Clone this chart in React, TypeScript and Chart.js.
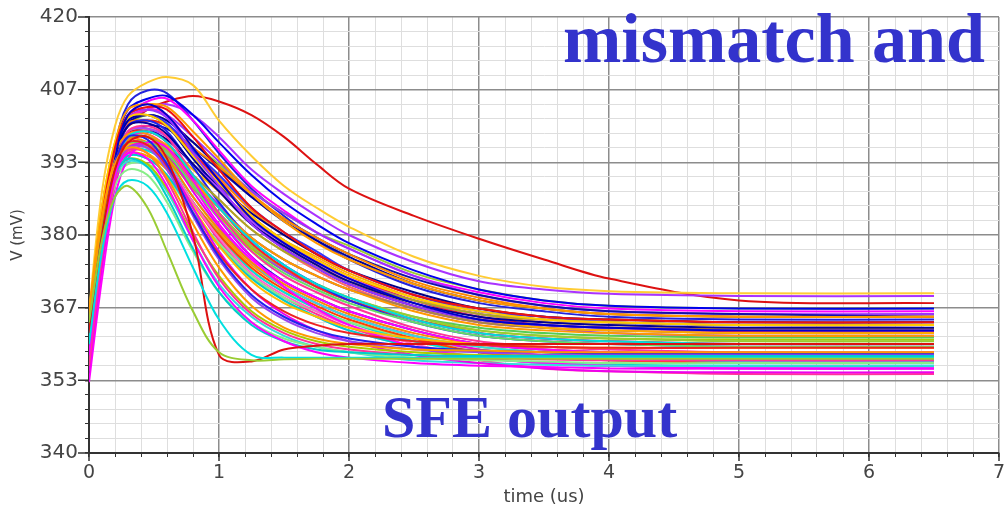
import React, { useEffect, useRef } from 'react';
import { Chart, registerables } from 'chart.js';

Chart.register(...registerables);

// time axis samples (us)
const times = [0, 0.1, 0.2, 0.3, 0.45, 0.6, 0.8, 1.0, 1.25, 1.5, 1.75, 2.0, 2.5, 3.0, 3.5, 4.0, 5.0, 6.5];

const yTickLabels = ['340', '353', '367', '380', '393', '407', '420'];
const xTickLabels = ['0', '1', '2', '3', '4', '5', '6', '7'];

// Monte Carlo output curves (mV), one row per run
const curveValues: number[][] = [
  [364, 379, 387, 389, 385, 377, 366, 358.5, 357, 357.2, 357.3, 357.3, 357.3, 357.3, 357.3, 357.3, 357.3, 357.3],
  [360, 377, 387, 390, 389, 384, 374, 364.5, 358, 357.5, 357.5, 357.5, 357.5, 357.5, 357.5, 357.5, 357.5, 357.5],
  [362, 380, 392, 397, 398, 394, 380, 358, 356.8, 359, 359.7, 360, 360, 360, 360, 360, 360, 360],
  [358, 378, 391, 395, 394, 389, 379, 370.5, 364, 360.5, 358.5, 357.5, 356.5, 356, 355.8, 355.5, 355.5, 355.5],
  [361, 380, 391, 394, 392.5, 387, 377.5, 369.5, 363.5, 360.5, 359, 358.5, 358, 357.8, 357.8, 357.8, 357.8, 357.8],
  [365, 383, 393, 396, 395, 390.5, 382, 374, 367, 363, 361, 360, 359, 358.8, 358.5, 358.5, 358.5, 358.5],
  [356, 376, 390, 395.5, 395, 390, 380.5, 372, 365.5, 362, 360, 359, 358, 357.5, 357.2, 357, 357, 357],
  [363, 381, 391, 394, 393, 388.5, 380, 372.5, 366, 362.5, 360.5, 359.5, 358.5, 358, 357.8, 357.5, 357.5, 357.5],
  [359, 379, 393, 398, 397.5, 393, 384, 376, 369, 365, 362.5, 361, 359.5, 358.8, 358.5, 358.3, 358.3, 358.3],
  [357, 377, 391, 396, 396, 392, 383.5, 375.5, 368.5, 364.5, 362, 360.5, 359, 358.5, 358, 358, 358, 358],
  [362, 379, 389, 392, 391, 386, 377, 369.5, 364, 361, 359.5, 358.5, 357.5, 357, 356.8, 356.5, 356.5, 356.5],
  [361, 381, 393, 397, 396.5, 392.5, 384, 376.5, 370, 366, 363.5, 362, 360.5, 359.8, 359.5, 359.3, 359.3, 359.3],
  [355, 375, 390, 396, 396.5, 393, 385, 377, 370, 365.5, 362.5, 360.5, 358, 356.5, 355.5, 355, 354.8, 354.8],
  [360, 379, 390.5, 393.5, 392.5, 388, 379, 371, 365, 361.5, 359.5, 358.5, 357, 356.5, 356.2, 356, 356, 356],
  [364, 383, 393.5, 396.5, 396, 392.5, 385, 378, 371.5, 367.5, 365, 363, 361, 360, 359.5, 359.3, 359.3, 359.3],
  [353, 372, 387, 394, 397, 396, 390, 383, 376, 370.5, 366.5, 363.5, 359.5, 357.5, 356.5, 356, 355.5, 355.5],
  [359, 379, 394, 402, 404, 402, 396, 390, 383, 378.5, 375, 372, 367.5, 364.5, 363.5, 363, 362.5, 362.5],
  [363, 383, 396, 402, 403.5, 403, 398, 392, 385, 380.5, 376.5, 373.5, 369, 366.5, 365, 364.5, 364, 364],
  [360, 379, 392, 398, 399, 397, 391, 385, 379, 374.5, 371, 368.5, 364.5, 362, 361, 360.5, 360, 360],
  [366, 384, 395, 398.5, 398.5, 396, 390, 385, 379.5, 375.5, 372.5, 370, 366, 363.5, 362.5, 362, 361.5, 361.5],
  [357, 377, 392, 399, 400, 398, 391, 384, 377, 372.5, 369.5, 367, 363, 360.5, 359.5, 359, 358.5, 358.5],
  [361, 381, 395, 402, 403, 401.5, 395, 389, 382, 377.5, 374, 371, 367, 364.5, 363.5, 363, 362.5, 362.5],
  [365, 385, 397, 401.5, 402, 400, 394.5, 389.5, 383.5, 379, 375.5, 372.5, 368.5, 366, 364.5, 364, 363.5, 363.5],
  [362, 380, 392, 396.5, 397, 395, 389, 383, 377, 373, 370, 367.5, 364, 361.5, 360.5, 360, 359.5, 359.5],
  [360, 380, 394, 400, 400.5, 398.5, 393, 388, 382, 378, 374.5, 371.5, 367.5, 365, 364, 363.5, 363, 363],
  [356, 376, 391, 398, 398.5, 396, 389, 382, 375.5, 371.5, 368.5, 366, 362.5, 360, 359, 358.5, 358, 358],
  [364, 383, 394, 397.5, 397, 394, 387, 381, 375, 371, 368, 365.5, 362, 360, 359, 358.5, 358, 358],
  [363, 382, 393, 397.5, 398, 396, 391, 386.5, 381, 377, 374, 371.5, 368, 365.5, 364.5, 364, 363.5, 363.5],
  [358, 378, 393, 400, 401, 399, 392.5, 386, 379, 374.5, 371, 368, 364, 361.5, 360.5, 360, 359.5, 359.5],
  [362, 382, 394, 398.5, 399, 397, 391, 385, 378.5, 374, 370.5, 368, 364.5, 362, 361, 360.5, 360, 360],
  [361, 380, 392, 396, 396, 393.5, 387, 381, 375, 370.5, 367.5, 365, 361.5, 359.5, 358.5, 358, 357.5, 357.5],
  [359, 379, 393, 399, 399.5, 398, 393, 388.5, 382.5, 378.5, 375, 372, 368, 365.5, 364.5, 364, 363.5, 363.5],
  [357, 376, 390, 395.5, 396, 393, 386, 379.5, 373, 369, 366, 363.5, 360, 357.5, 356.5, 356, 355.5, 355.5],
  [364, 383, 394, 398, 398, 395.5, 389.5, 384, 378, 374, 371, 368.5, 365, 362.5, 361.5, 361, 360.5, 360.5],
  [362, 381, 393, 397.5, 398, 396.5, 392, 388, 383, 379, 376, 373, 368.5, 365.5, 364, 363.5, 362.8, 362.8],
  [360, 379, 391, 394.5, 394, 391, 384, 378, 372, 368, 365, 362.5, 359.5, 357.5, 356.5, 356.2, 356, 356],
  [361, 381, 395, 401, 402, 400, 394, 388.5, 382, 377.5, 374, 371, 367, 364.5, 363.5, 363, 362.8, 362.8],
  [355, 374, 389, 395.5, 397, 395, 388, 381.5, 375, 370.5, 367.5, 365, 361.5, 359, 358, 357.5, 357, 357],
  [363, 382, 393, 396.5, 396, 393, 386, 380, 374, 370, 367, 364.5, 361, 358.5, 357.5, 357, 356.5, 356.5],
  [362, 380, 390, 393, 393, 390.5, 384, 378.5, 372.5, 368.5, 366, 364, 361, 359, 358, 357.5, 357, 357],
  [359, 379, 394, 401, 402, 400.5, 395.5, 391, 385, 380.5, 377, 373.5, 369, 366, 365, 364, 363.5, 363.5],
  [365, 384, 395, 399, 399.5, 398, 393, 388, 382, 378, 374.5, 371.5, 367, 364.5, 363, 362.5, 362, 362],
  [358, 377, 391, 396.5, 397, 395, 389.5, 384, 378, 373.5, 370.5, 368, 364.5, 362, 361, 360.5, 360, 360],
  [364, 382, 393, 396.5, 396.5, 394.5, 389.5, 385, 379.5, 375.5, 372.5, 370, 366.5, 364, 363, 362.5, 362, 362],
  [359, 378, 391, 395.5, 395.5, 393, 386, 380, 373.5, 369.5, 366.5, 364, 360.5, 358.5, 357.5, 357, 356.8, 356.8],
  [356, 375, 389, 395, 395.5, 393, 386, 379, 372.5, 368.5, 365.5, 363, 359.5, 357, 355.5, 355, 354.5, 354.5],
  [361, 381, 394, 400, 401, 400, 395, 390, 383.5, 379, 375.5, 372.5, 368, 365, 363.5, 363, 362.3, 362.3],
  [363, 381, 392, 396, 396, 394, 388.5, 383.5, 377.5, 373.5, 370.5, 368, 364.5, 362.5, 361.5, 361, 360.8, 360.8],
  [357, 377, 392, 398.5, 399.5, 397, 390, 383, 376, 371.5, 368.5, 366, 362.5, 360, 359, 358.5, 358, 358],
  [363, 382, 392, 395, 394.5, 392, 386, 380.5, 374.5, 370.5, 367.5, 365, 361.5, 359.5, 358.5, 358, 357.5, 357.5],
  [358, 378, 392, 397.5, 398, 396, 390.5, 385.5, 379.5, 375.5, 372.5, 370, 366.5, 364, 363, 362, 361.5, 361.5],
  [357, 377, 393, 401, 403, 402, 396, 390, 383, 378.5, 375, 372, 368, 365.5, 364.5, 364, 363.5, 363.5],
  [360, 379, 391, 394.5, 394, 391, 384.5, 378.5, 372.5, 368, 365, 362.5, 359.5, 357.5, 356.5, 356, 355.8, 355.8],
  [364, 383, 393, 396, 395, 392, 385.5, 379.5, 373.5, 369.5, 366.5, 364, 360.5, 358.5, 357.5, 357, 356.8, 356.8],
  [359, 379, 393, 398.5, 399, 397.5, 393, 389, 384, 380, 376.5, 373.5, 369.5, 366.5, 365, 364.5, 364, 364],
  [361, 380, 392, 396.5, 397, 395.5, 391, 386.5, 381, 377, 373.5, 370.5, 366.5, 364, 363, 362.5, 362, 362],
  [362, 381, 393, 396.5, 396.5, 394.5, 389, 384, 378, 374, 371, 368.5, 365, 363, 362, 361.5, 361.2, 361.2],
  [365, 385, 396, 400, 401, 400, 395.5, 390.5, 384.5, 380, 376.5, 373.5, 369, 366.5, 365, 364.5, 364, 364],
  [364, 385, 397, 403, 404, 403.5, 399, 394, 387.5, 382.5, 378.5, 375.5, 371, 368, 366.5, 365.5, 365, 365],
  [364, 384, 396, 400.5, 401, 400, 396, 392.5, 387.5, 383, 379.5, 376.5, 371.5, 368.5, 366.5, 365.5, 365, 365],
  [362, 382, 395, 400.5, 402, 401, 397, 392.5, 387, 382.5, 379, 376, 371, 368, 366.5, 365.5, 365, 365],
  [361, 380, 393, 398.5, 400, 399.5, 396, 392, 387, 383, 379.5, 376.5, 372, 369, 367, 366, 365.5, 365],
  [360, 381, 395, 401.5, 403, 402, 398, 393.5, 388, 384, 380.5, 377.5, 372.5, 369, 367, 366, 365.5, 365.5],
  [358, 379, 394, 402, 404.5, 405, 401, 395.5, 389, 384.5, 380.5, 377.5, 372.5, 369.5, 367.5, 366.5, 366, 366],
  [360, 381, 396, 403, 405, 405.5, 402, 397, 391, 386, 382, 378.5, 373.5, 370, 368, 367, 366.5, 366.5],
  [363, 382, 395, 400, 402, 401, 397, 393, 388, 384, 380.5, 378, 373, 370, 368, 367, 366.5, 366.5],
  [358, 380, 396, 404, 406.5, 406, 401, 395, 388.5, 383.5, 379, 375.5, 370.5, 367.5, 366, 365, 364.5, 364.5],
  [362, 381, 395, 401, 403, 404, 402, 398, 392, 387.5, 383.5, 380, 375, 371.5, 370, 369.2, 368.8, 368.8],
  [366, 388, 400, 405.5, 408, 409, 407.5, 401, 394.5, 389, 385, 381.5, 376, 372.5, 370.5, 369.7, 369.3, 369.3],
  [365, 384, 395, 400, 403, 404.5, 405.5, 404.5, 402, 398, 393, 388.5, 383.5, 379.3, 375.5, 372, 368, 367.5],
];

const curveColors: string[] = [
  '#99cc33', '#00e0e0', '#dd1111', '#ff00ff', '#00cccc', '#ff9900', '#ff3399', '#aacc00',
  '#2222ee', '#9944ee', '#88ee88', '#ee2222', '#ee00ee', '#33dddd', '#ffbb00',
  '#ff00ff', '#0000cc', '#ee1111', '#00dddd', '#ff9900',
  '#ff3399', '#9933ff', '#ffcc00', '#66dd66', '#000099', '#ff00ff', '#ff8800', '#aaaa22',
  '#2222ee', '#ff2222', '#33dddd', '#aa44ff', '#ff66cc', '#99cc33', '#ffaa00', '#00cccc',
  '#000099', '#ee00ee', '#ff4400', '#88ee88', '#3333ff', '#ffaa00', '#9944ee', '#aa8844',
  '#00e0e0', '#ff3399', '#ee2222', '#aacc00', '#1111dd', '#ff9900', '#9933ff', '#ff22cc',
  '#66ccff', '#ffcc00', '#000088', '#ff6666', '#55cc55', '#ff8800', '#ff9900', '#ff8800',
  '#000099', '#1111aa', '#9933ff', '#ff00ff', '#0000ee', '#99cc33', '#2222dd', '#aa33ff',
  '#ffcc33', '#dd1111',
];

const majorTicks = {
  id: 'majorTicks',
  afterDraw(chart: any) {
    const { ctx } = chart;
    const xs = chart.scales.x;
    const ys = chart.scales.y;
    ctx.save();
    ctx.strokeStyle = '#333';
    ctx.lineWidth = 1.5;
    ctx.beginPath();
    ys.ticks.forEach((_t: any, i: number) => {
      if (i % 5 !== 0) return;
      const py = ys.getPixelForTick(i);
      ctx.moveTo(ys.right - 11, py);
      ctx.lineTo(ys.right, py);
    });
    xs.ticks.forEach((_t: any, i: number) => {
      if (i % 5 !== 0) return;
      const px = xs.getPixelForTick(i);
      ctx.moveTo(px, xs.top);
      ctx.lineTo(px, xs.top + 8);
    });
    ctx.stroke();
    ctx.restore();
  },
};

export default function App() {
  const canvasRef = useRef<HTMLCanvasElement | null>(null);

  useEffect(() => {
    if (!canvasRef.current) return;
    const majorGrid = (c: any) => (c.index % 5 === 0 ? '#8c8c8c' : '#dedede');
    const majorWidth = (c: any) => (c.index % 5 === 0 ? 1.5 : 1);
    const chart = new Chart(canvasRef.current, {
      type: 'line',
      data: {
        datasets: curveValues.map((vals, i) => ({
          data: vals.map((v, j) => ({ x: times[j], y: v })),
          borderColor: curveColors[i % curveColors.length],
          backgroundColor: curveColors[i % curveColors.length],
          borderWidth: 2,
          pointRadius: 0,
          fill: false,
          tension: 0.35,
        })),
      },
      options: {
        responsive: false,
        animation: false,
        layout: { padding: { top: 17, right: 6, left: 0, bottom: 0 } },
        plugins: { legend: { display: false }, tooltip: { enabled: false } },
        scales: {
          x: {
            type: 'linear',
            min: 0,
            max: 7,
            ticks: {
              stepSize: 0.2,
              maxTicksLimit: 100,
              autoSkip: false,
              maxRotation: 0,
              padding: 5,
              color: '#444',
              font: { family: 'DejaVu Sans', size: 19 },
              callback: (_v: any, i: number) => (i % 5 === 0 ? xTickLabels[i / 5] : ''),
            },
            grid: { color: majorGrid, lineWidth: majorWidth, tickColor: '#333', tickLength: 4 },
            border: { display: true, color: '#333', width: 2 },
            title: {
              display: true,
              text: 'time (us)',
              color: '#444',
              font: { family: 'DejaVu Sans', size: 18 },
              padding: { top: 0, bottom: 8 },
            },
            afterFit: (s: any) => {
              s.height = 63;
              s.paddingLeft = 0;
              s.paddingRight = 0;
            },
          },
          y: {
            type: 'linear',
            min: 340,
            max: 420,
            ticks: {
              stepSize: 80 / 30,
              maxTicksLimit: 100,
              autoSkip: false,
              padding: 7,
              color: '#444',
              font: { family: 'DejaVu Sans', size: 20 },
              callback: (_v: any, i: number) => (i % 5 === 0 ? yTickLabels[i / 5] : ''),
            },
            grid: { color: majorGrid, lineWidth: majorWidth, tickColor: '#333', tickLength: 4 },
            border: { display: true, color: '#333', width: 2 },
            title: {
              display: true,
              text: 'V (mV)',
              color: '#444',
              font: { family: 'DejaVu Sans', size: 15 },
              padding: { top: 9, bottom: 0 },
            },
            afterFit: (s: any) => {
              s.width = 89;
              s.paddingTop = 0;
              s.paddingBottom = 0;
            },
          },
        },
      },
      plugins: [majorTicks],
    });
    return () => chart.destroy();
  }, []);

  const overlay: React.CSSProperties = {
    position: 'absolute',
    fontFamily: '"Liberation Serif", "Times New Roman", serif',
    fontWeight: 'bold',
    color: '#3333cc',
    lineHeight: 1,
    whiteSpace: 'nowrap',
    margin: 0,
  };

  return (
    <div style={{ position: 'absolute', left: 0, top: 0, width: 1005, height: 516, background: '#fff', overflow: 'hidden' }}>
      <canvas ref={canvasRef} width={1005} height={516} style={{ display: 'block' }} />
      <div style={{ ...overlay, left: 563, top: 4, fontSize: 70 }}>mismatch and</div>
      <div style={{ ...overlay, left: 382, top: 387, fontSize: 60 }}>SFE output</div>
    </div>
  );
}
